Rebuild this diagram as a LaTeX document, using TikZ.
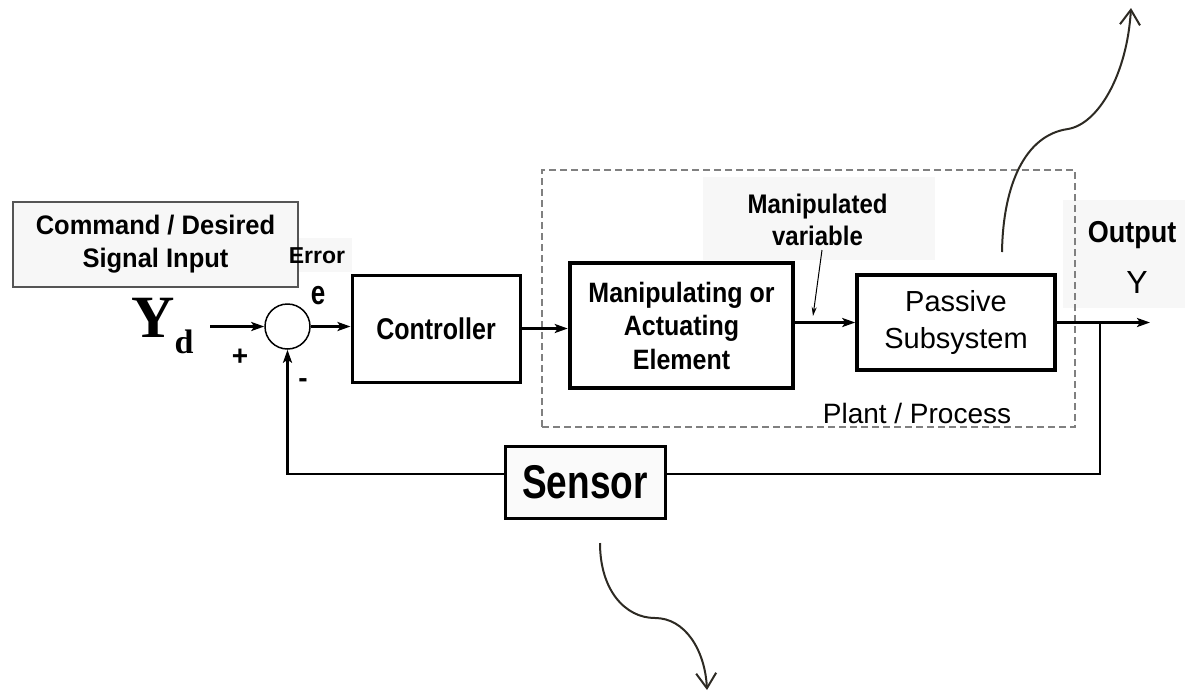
\documentclass[tikz,border=0pt]{standalone}
\usepackage{fontspec}
\usepackage{graphicx}
\setmainfont{Liberation Sans}
\newfontfamily\timesfam{Liberation Serif}
\usetikzlibrary{arrows.meta}

\newcommand\fsz[2]{\fontsize{#1}{#2}\selectfont}
\newcommand\tallbf[2]{\scalebox{1}[#1]{#2}}

\definecolor{plantgray}{RGB}{128,128,128}
\definecolor{cmdgray}{RGB}{85,85,85}
\definecolor{panel}{RGB}{247,247,247}
\definecolor{curve}{RGB}{45,42,35}

\tikzset{
  block/.style={draw, line width=3pt, fill=white, inner sep=0pt},
  flow/.style={line width=2.6pt, -{Stealth[length=13pt,width=9pt,inset=3pt]}},
  wire/.style={line width=2.6pt},
  pointer/.style={line width=1pt, -{Stealth[length=9pt,width=5pt]}},
  note/.style={draw=none, inner sep=0pt, align=center},
  swirl/.style={line width=2pt, draw=curve, -{Straight Barb[length=15pt,width=20pt]}},
}

\begin{document}
\begin{tikzpicture}[x=1pt,y=-1pt]
\useasboundingbox (0,0) rectangle (1185,694);

% faint panels behind some labels
\fill[panel] (285,238) rectangle (352,272);
\fill[panel] (703,177) rectangle (935,260);
\fill[panel] (1063,200) rectangle (1185,308);

% plant / process boundary
\node[draw=plantgray, dash pattern=on 7pt off 4pt, line width=2pt,
      minimum width=533pt, minimum height=257pt, inner sep=0pt] (plant) at (808.5,298.5) {};
\node[note, anchor=base, font=\fsz{28}{28}] (plantlbl) at (917,423) {Plant / Process};

% command input
\node[draw=cmdgray, line width=2pt, fill=black!3, minimum width=285pt, minimum height=85pt,
      inner sep=0pt, align=center, font=\fsz{25.5}{33}\bfseries] (cmd) at (155.5,244)
      {\tallbf{1.05}{Command / Desired}\\\tallbf{1.05}{Signal Input}};
\node[inner sep=0pt, anchor=base west] (yd) at (131,337)
      {\timesfam\bfseries\fsz{60}{60}Y\raisebox{-16pt}{\fsz{34}{34}d}};

% summing junction
\node[circle, draw, line width=1.5pt, minimum size=45pt, inner sep=0pt] (sum) at (287.5,326.5) {};
\node[note, font=\fsz{28}{28}\bfseries] (plus) at (240,357) {+};
\node[note, font=\fsz{28}{28}\bfseries] (minus) at (303,383) {-};
\node[note, font=\fsz{23}{23}\bfseries] (err) at (317,256) {Error};
\node[note, font=\fsz{26}{26}\bfseries] (e) at (318,296) {\tallbf{1.3}{e}};

% blocks
\node[block, minimum width=168pt, minimum height=107pt, font=\fsz{25}{30}\bfseries] (ctrl) at (436,328.5)
      {\tallbf{1.2}{Controller}};
\node[block, line width=4.5pt, minimum width=223pt, minimum height=125pt, align=center,
      font=\fsz{25}{33.5}\bfseries] (manip) at (681.5,325.5)
      {\tallbf{1.12}{Manipulating or}\\\tallbf{1.12}{Actuating}\\\tallbf{1.12}{Element}};
\node[block, line width=3.5pt, minimum width=198pt, minimum height=95pt, align=center,
      font=\fsz{29}{37}] (passive) at (956,322.5) {Passive\\Subsystem};
\node[block, fill=black!2, minimum width=160pt, minimum height=72pt, font=\fsz{37}{37}\bfseries]
      (sensor) at (585,482) {\tallbf{1.28}{Sensor}};

% labels
\node[note, font=\fsz{24}{32}\bfseries] (mv) at (817.5,220)
      {\tallbf{1.12}{Manipulated}\\\tallbf{1.12}{variable}};
\node[note, anchor=base, font=\fsz{27}{27}\bfseries] (outlbl) at (1132,242) {\tallbf{1.12}{Output}};
\node[note, anchor=base, font=\fsz{32}{32}] (outy) at (1137,293) {Y};

% signal path
\coordinate (ydin) at (210,326.5);
\coordinate (out) at (1150,322.5);
\coordinate (br) at (1100,322.5);
\coordinate (fbR) at (1100,474);
\draw[flow] (ydin) -- (sum.west);
\draw[flow] (sum.east) -- (sum.east -| ctrl.west);
\draw[flow] (ctrl.east) -- (ctrl.east -| manip.west);
\draw[flow] (manip.east |- passive.west) -- (passive.west);
\draw[flow] (passive.east) -- (out);
\draw[wire] (br) -- (fbR) -- (fbR -| sensor.east);
\draw[flow] (fbR -| sensor.west) -| (sum.south);

% manipulated variable pointer
\coordinate (mvtail) at (822,250);
\coordinate (mvhead) at (813,316);
\draw[pointer] (mvtail) -- (mvhead);

% curved arrows
\coordinate (c1s) at (1002,252);
\coordinate (c1m) at (1068,129);
\coordinate (c1e) at (1131,8);
\draw[swirl] (c1s) .. controls (1003,185) and (1025,135) .. (c1m)
                   .. controls (1098,124) and (1127,75) .. (c1e);
\coordinate (c2s) at (600,543);
\coordinate (c2m) at (655,618);
\coordinate (c2e) at (707,690);
\draw[swirl] (c2s) .. controls (600,590) and (625,618) .. (c2m)
                   .. controls (685,618) and (705,650) .. (c2e);
\end{tikzpicture}
\end{document}
